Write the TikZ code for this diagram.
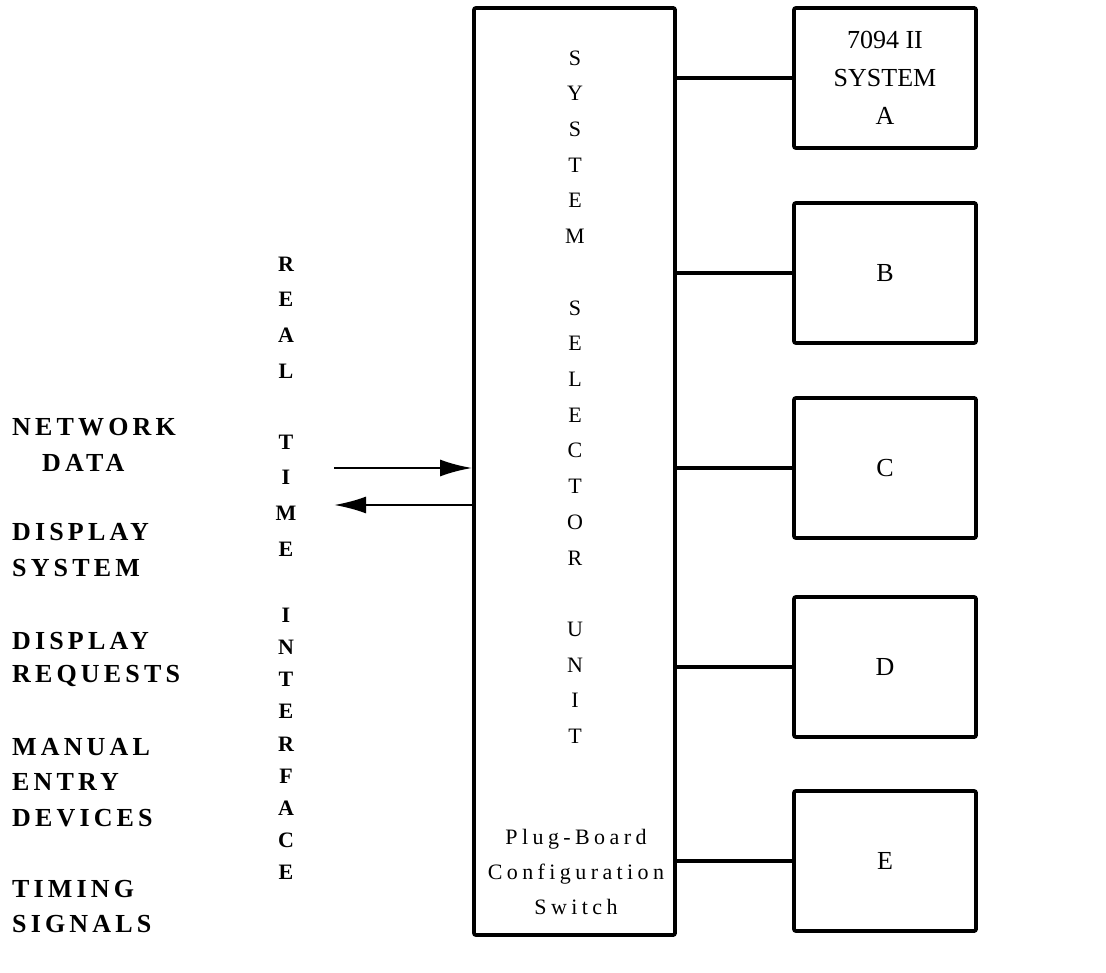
\documentclass[tikz,border=0pt]{standalone}
\usepackage{fontspec}
\setmainfont{Liberation Serif}
\usetikzlibrary{arrows.meta}
\begin{document}
\begin{tikzpicture}[x=1pt,y=-1pt,
  unitbox/.style={draw, line width=3.8pt, rounded corners=2pt, minimum width=182pt, minimum height=140pt, inner sep=0pt, align=center, font=\fontsize{26}{38}\selectfont},
  mainbox/.style={draw, line width=3.8pt, rounded corners=2pt, minimum width=201pt, minimum height=927pt, inner sep=0pt},
  conn/.style={line width=3.2pt},
  arr/.style={line width=2.5pt, -{Latex[length=32pt,width=17pt]}},
  lab/.style={anchor=west, inner sep=0pt, font=\fontsize{26}{30}\selectfont\bfseries\addfontfeature{LetterSpace=16}},
  rtl/.style={inner sep=0pt, font=\fontsize{22}{26}\selectfont\bfseries},
  ssl/.style={inner sep=0pt, font=\fontsize{22}{26}\selectfont},
  pbc/.style={inner sep=0pt, align=center, font=\fontsize{22}{35}\selectfont\addfontfeature{LetterSpace=20}}
]
\useasboundingbox (0,0) rectangle (1106,973);

% main selector box
\node[mainbox] (main) at (574.5,471.5) {};

% right boxes
\node[unitbox] (sa) at (885,78) {7094 II\\SYSTEM\\A};
\node[unitbox] (sb) at (885,273) {B};
\node[unitbox] (sc) at (885,468) {C};
\node[unitbox] (sd) at (885,667) {D};
\node[unitbox] (se) at (885,861) {E};

% connectors
\foreach \b in {sa,sb,sc,sd,se}
  \draw[conn] (main.east |- \b.west) -- (\b.west);

% vertical texts: REAL TIME
\foreach \c/\k in {R/0,E/1,A/2,L/3,T/5,I/6,M/7,E/8}
  \node[rtl] (rti-\k) at (286,{264+35.6*\k}) {\c};
% INTERFACE
\foreach \c/\k in {I/0,N/1,T/2,E/3,R/4,F/5,A/6,C/7,E/8}
  \node[rtl] (itf-\k) at (286,{615+32.2*\k}) {\c};
% SYSTEM SELECTOR UNIT
\foreach \c/\k in {S/0,Y/1,S/2,T/3,E/4,M/5,S/7,E/8,L/9,E/10,C/11,T/12,O/13,R/14,U/16,N/17,I/18,T/19}
  \node[ssl] (ssu-\k) at (575,{58+35.7*\k}) {\c};

\node[pbc] (plug) at (576,872) {Plug-Board\\Configuration\\Switch};

% left labels
\node[lab] (l1) at (12,427) {NETWORK};
\node[lab] (l2) at (42,463) {DATA};
\node[lab] (l3) at (12,532) {DISPLAY};
\node[lab] (l4) at (12,568) {SYSTEM};
\node[lab] (l5) at (12,641) {DISPLAY};
\node[lab] (l6) at (12,676) {REQUESTS};
\node[lab] (l7) at (12,747) {MANUAL};
\node[lab] (l8) at (12,782) {ENTRY};
\node[lab] (l9) at (12,818) {DEVICES};
\node[lab] (l10) at (12,889) {TIMING};
\node[lab] (l11) at (12,924) {SIGNALS};

% arrows
\coordinate (ain) at (334,468);
\coordinate (aout) at (334,505);
\draw[arr] (ain) -- (main.west |- ain);
\draw[arr] (main.west |- aout) -- (aout);
\end{tikzpicture}
\end{document}
